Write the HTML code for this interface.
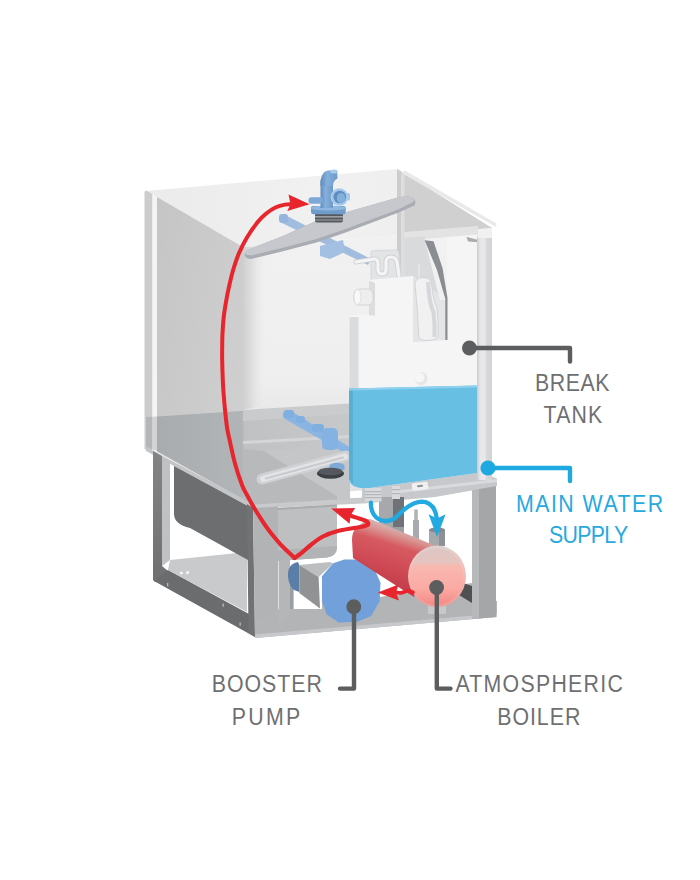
<!DOCTYPE html>
<html><head><meta charset="utf-8">
<style>
html,body{margin:0;padding:0;background:#fff;}
body{width:700px;height:880px;overflow:hidden;font-family:"Liberation Sans",sans-serif;}
svg{display:block}
text{font-family:"Liberation Sans",sans-serif;}
</style></head><body>
<svg width="700" height="880" viewBox="0 0 700 880">
<defs>
<linearGradient id="gLeft" x1="0" y1="0" x2="1" y2="0.6"><stop offset="0" stop-color="#c5c5c6"/><stop offset="1" stop-color="#cfcfd0"/></linearGradient>
<linearGradient id="gTop" x1="0" y1="0" x2="1" y2="0"><stop offset="0" stop-color="#ebebec"/><stop offset="0.5" stop-color="#f1f1f1"/><stop offset="1" stop-color="#ececed"/></linearGradient>
<linearGradient id="gFront" x1="0" y1="0" x2="0" y2="1"><stop offset="0" stop-color="#f1f1f1"/><stop offset="0.55" stop-color="#efeff0"/><stop offset="0.68" stop-color="#e8e8e9"/><stop offset="1" stop-color="#e0e0e1"/></linearGradient>
<linearGradient id="gCorner" x1="0" y1="0" x2="1" y2="0"><stop offset="0" stop-color="#cfcfd0" stop-opacity="1"/><stop offset="0.3" stop-color="#dadadb" stop-opacity="0.9"/><stop offset="1" stop-color="#f0f0f0" stop-opacity="0"/></linearGradient>
<linearGradient id="gBoiler" gradientUnits="userSpaceOnUse" x1="403" y1="528" x2="386" y2="582"><stop offset="0" stop-color="#cfbfbe"/><stop offset="0.16" stop-color="#d99390"/><stop offset="0.34" stop-color="#d65a61"/><stop offset="0.7" stop-color="#cf4a55"/><stop offset="1" stop-color="#c33f4b"/></linearGradient>
<linearGradient id="gCap" x1="0" y1="0" x2="0" y2="1"><stop offset="0" stop-color="#dcc6c3"/><stop offset="0.25" stop-color="#e6c3be"/><stop offset="0.31" stop-color="#f8b8b0"/><stop offset="0.7" stop-color="#fbaaa4"/><stop offset="1" stop-color="#f48a86"/></linearGradient><linearGradient id="gRim" x1="0" y1="0" x2="0" y2="1"><stop offset="0" stop-color="#ddd0ce"/><stop offset="0.35" stop-color="#f3c2bc"/><stop offset="1" stop-color="#f19a95"/></linearGradient>
<linearGradient id="gPost" x1="0" y1="0" x2="1" y2="0"><stop offset="0" stop-color="#c9cacc"/><stop offset="0.2" stop-color="#e6e6e8"/><stop offset="0.55" stop-color="#e9e9eb"/><stop offset="0.6" stop-color="#d8d9db"/><stop offset="1" stop-color="#d2d3d5"/></linearGradient>
<linearGradient id="gWork" gradientUnits="userSpaceOnUse" x1="157" y1="0" x2="350" y2="0"><stop offset="0" stop-color="#a9acaf"/><stop offset="0.44" stop-color="#b2b5b8"/><stop offset="0.455" stop-color="#bfc1c3"/><stop offset="1" stop-color="#c6c8ca"/></linearGradient>
<linearGradient id="gLeg" x1="0" y1="0" x2="0" y2="1"><stop offset="0" stop-color="#828485"/><stop offset="1" stop-color="#6e7072"/></linearGradient>
<linearGradient id="gValve" x1="0" y1="0" x2="1" y2="0"><stop offset="0" stop-color="#5f8cbe"/><stop offset="0.4" stop-color="#86b0dc"/><stop offset="1" stop-color="#6c99c9"/></linearGradient>
</defs>
<rect width="700" height="880" fill="#ffffff"/>


<!-- HOOD -->
<g id="hood">
<!-- top face -->
<polygon points="146,191 397,169 492,228 243,247" fill="url(#gTop)"/>
<!-- right triangle (back-right wall through top) -->
<polygon points="404,173 492,228 404,236" fill="#d0d0d1"/>
<!-- front right face -->
<polygon points="243,247 492,228 492,480 243,500" fill="url(#gFront)"/>
<!-- back right wall through front face -->
<polygon points="404,232 478,226 478,300 404,300" fill="#e3e3e4"/><polygon points="404,238 424.5,236.5 440,300 404,300" fill="#d9dadc"/>
<!-- back corner strip -->
<polygon points="397,169 401,171 401,300 397,300" fill="#cdcdce"/>
<polygon points="401,171 404.5,173 404.5,300 401,300" fill="#dededf"/>
<!-- top right lip -->
<polygon points="404,170 496.5,223.5 496,227 404,174.5" fill="#e9e9ea"/>
<!-- left face -->
<polygon points="157,197 243,247 243,499 157,452" fill="url(#gLeft)"/>
<polygon points="243,247 268,245 268,404 243,410" fill="url(#gCorner)"/>
<!-- left strip -->
<polygon points="144.5,192 146,190.5 152.5,194 152.5,452 144.5,449" fill="#cccccd"/>
<polygon points="152.5,194 157,198 157,455 152.5,452" fill="#f4f4f4"/>
</g>

<!-- worktop -->
<g id="worktop">
<polygon points="157,416.5 350,404 350,499 253,505 157,451" fill="url(#gWork)"/>
<polygon points="146,417 152.5,416.7 152.5,449.5 146,447" fill="#b4b6b9"/><polygon points="152.5,416.7 157,416.5 157,451 152.5,449.5" fill="#d2d4d6"/>
<!-- front-left edge -->
<polygon points="146,447 253,504 253,508.5 146,451" fill="#c3c5c7"/>
<!-- front-right edge -->
<polygon points="253,504 300,501 363,497.5 435,491 497,480 497,486 435,497 363,503.5 300,506.5 253,509" fill="#c8cacc"/>
</g>

<!-- upper wash arm -->
<g id="arm">
<!-- secondary blue arm -->
<path d="M281 217 Q283 214 287 216 L371 259 L368 265 L284 224 Q279 222 281 217 Z" fill="#a0bde0"/>
<rect x="279" y="214" width="9" height="9" rx="3" fill="#94b6de"/>
<!-- main arm -->
<path d="M244.5 254 Q245 250 251 248.5 L283 236 L316 221 L354 210 L398 197.6 Q407 195.5 412 197.5 Q417 200.5 414.5 205.5 L398 212.8 L343.6 233.2 L316.4 242.6 L283 251.3 L252 258.8 Q245 259.5 244.5 254 Z" fill="#a9acb3"/>
<path d="M244.8 253 Q245 250 251 248.5 L283 236 L316 221 L354 210 L398 197.6 Q407 195.5 412 197.5 Q415.5 199.5 413 202 L398 209.5 L343.6 229.8 L316.4 239 L283 247.8 L252 255.2 Q246 256 244.8 253 Z" fill="#c6c8cd"/>
<!-- blue nozzles under arm -->
<path d="M320 246 L343 240 L345 252 L330 259 L320 256 Z" fill="#a3c0e2"/>
<!-- valve -->
<rect x="315" y="213" width="28" height="9.5" rx="2" fill="#565a60"/>
<rect x="315" y="216" width="28" height="1.6" fill="#9da0a5"/>
<rect x="315" y="219.3" width="28" height="1.4" fill="#8b8e93"/>
<path d="M311 207.5 Q311 206 313 206 L343.5 206 Q345.7 206 345.7 208 L345.7 212 Q345.7 214.3 343 214.3 L313.5 214.3 Q311 214.3 311 212 Z" fill="#6f9ccb"/><ellipse cx="328.3" cy="208" rx="17.3" ry="2.6" fill="#8fb8e0"/>
<rect x="320.5" y="180" width="12.5" height="28" fill="url(#gValve)"/>
<path d="M320.5 186 Q320 172 328 170.5 L337 170 L337.5 178.5 Q333 180.5 333 186 Z" fill="url(#gValve)"/>
<ellipse cx="334" cy="171.5" rx="3.6" ry="2" fill="#a9cbea"/>
<rect x="308.6" y="197.3" width="14" height="6.4" rx="2.5" fill="#7ea9d7"/>
<circle cx="339.3" cy="197" r="8.8" fill="#a6c9ea"/>
<circle cx="339.8" cy="197" r="6.3" fill="#5f8cbe"/><rect x="346.5" y="193" width="3.5" height="7.5" rx="1.5" fill="#a6c9ea"/>
<ellipse cx="341" cy="198" rx="4.2" ry="5" fill="#86b0dc"/>
</g>

<!-- lower wash arms -->
<g id="arm2">
<!-- well -->
<polygon points="243,410 350,403.5 350,414 243,421" fill="#c9cbcc"/>
<polygon points="243,441 350,435 350,438 243,444" fill="#d3d5d6"/>
<path d="M243 449 L264 451 L337 496 L337 499.5 L253 504.5 L243 499 Z" fill="#b7b9bb"/>
<path d="M264 451 L350 445 L350 499 L337 500 L337 496 Z" fill="#c4c6c8"/>
<!-- blue arm -->
<path d="M284 411 Q287 409 291 411 L351 448 L348 455 L285 419 Q281 416 284 411 Z" fill="#8ab5e3"/>
<rect x="284" y="410" width="10" height="8" rx="3" fill="#7fafe0"/>
<rect x="296" y="416" width="9" height="7" rx="3" fill="#7fafe0"/>
<rect x="312" y="424" width="12" height="8" rx="3" fill="#7fafe0"/>
<rect x="322" y="428" width="16" height="22" rx="5" fill="#84b2e2"/>
<!-- loop arm -->
<path d="M262 479 L346 456" fill="none" stroke="#cfd1d4" stroke-width="11" stroke-linecap="round"/>
<path d="M263 479 L345 456.5" fill="none" stroke="#e3e4e6" stroke-width="6" stroke-linecap="round"/>
<path d="M266 478.5 L343 457.5" fill="none" stroke="#c8cacd" stroke-width="2" stroke-linecap="round"/>
<!-- hub -->
<ellipse cx="337" cy="466" rx="7.5" ry="3.2" fill="#7eaad8"/>
<rect x="329.5" y="466" width="15" height="4" fill="#7eaad8"/>
<ellipse cx="330.5" cy="473.5" rx="13.5" ry="5.2" fill="#3c3f44"/>
<ellipse cx="330.5" cy="471.5" rx="12" ry="3.8" fill="#55595f"/>
</g>

<!-- frame -->
<g id="frame">
<!-- left leg -->
<polygon points="153,451 162,456 162,566 168,571 155,582 153,580" fill="url(#gLeg)"/>
<polygon points="162,457 170,461 170,560 162,566" fill="#bfc1c2"/>
<!-- bottom-left rail -->
<polygon points="154,581 255,637 249,614 168,570" fill="#6a6c6e"/>
<!-- floor plate -->
<polygon points="170,560 247,552 247,612 168,570" fill="#c8cacb"/>
<circle cx="181.4" cy="573" r="1.6" fill="#f4f4f4"/><circle cx="187.6" cy="572.6" r="1.6" fill="#f4f4f4"/>
<rect x="167" y="583" width="1.3" height="3.2" fill="#b9bbbc"/><rect x="222.5" y="603.5" width="1.3" height="3.2" fill="#b9bbbc"/><rect x="239.5" y="622.5" width="1.3" height="3.2" fill="#b9bbbc"/>
<!-- sink -->
<path d="M174 466 L248 506 L248 560 L190 528 Q174 524 174 514 Z" fill="#6c6e70"/>
<!-- front leg -->
<polygon points="247,504 253,508 255,637 248.5,633" fill="#707274"/>
<polygon points="253,508 278,506.5 278,635 255,637" fill="#b1b3b4"/>
<!-- bottom right rail -->
<polygon points="255,638 497,617 497,601 472,603 472,583 410,592 380,597 322,600 322,609 279,609 255,622" fill="#b2b4b5"/>
<polygon points="255,634.5 497,613.5 497,617 255,638" fill="#c6c8cb"/>
<polygon points="278.6,560 290,560 290,612 278.6,625" fill="#b4b6b7"/>
<rect x="290" y="577" width="3.6" height="32" fill="#9a9da1"/>
<rect x="428" y="604" width="18" height="10" fill="#c6c8cb"/>
<!-- right leg -->
<polygon points="472,488 496,484 496,617 472,619" fill="#a4a6a7"/>
<polygon points="472,488 479,487 479,618.4 472,619" fill="#b6b8b9"/>
<!-- under-tank platform -->
<polygon points="362,489 478,472 497,478.5 497,486 435,496.5 400,499.5 362,503" fill="#c6c8cb"/>
<polygon points="400,490 497,479 497,482 400,493" fill="#d8dadc"/>
<rect x="412" y="482.5" width="16" height="7.5" rx="1.5" fill="#f0f0f1" transform="rotate(-7 420 486)"/>
<rect x="417" y="485" width="6" height="2" rx="1" fill="#8d9095" transform="rotate(-7 420 486)"/>
<!-- mid bracket -->
<rect x="383" y="497" width="21" height="40" fill="#9c9fa3"/>
</g>

<!-- tub front, pump -->
<g id="pump">
<path d="M277.7 508 L337 504.5 L337 547 Q337 556.5 327 557.5 L278 561 Z" fill="#bdbfc1"/>
<polygon points="277.7,508 337,504.5 337,506.5 277.7,510" fill="#a9abad"/>
<path d="M278 550 L337 546 L337 547 Q337 556.5 327 557.5 L278 561 Z" fill="#b1b3b5"/>
<path d="M298 562 Q287 564 288 577 Q289 586 294 590 L299.3 592 L299.3 565 Z" fill="#5b7ea9"/>
<polygon points="299.3,565 330,562 333,563.5 318.6,577" fill="#bcbebf"/>
<polygon points="299.3,565 318.6,577 320,608.6 299.3,592.9" fill="#909294"/>
<polygon points="322,576.2 333.1,563.2 344.3,559.5 362.9,559.5 374,567.9 380.5,582.7 379.6,601.3 371.2,616.1 357.3,621.7 338.7,622.6 326.6,614.3 322,601.3" fill="#72a0da"/>
</g>
<g id="boiler">
<rect x="379" y="497" width="14" height="30" fill="#a6a8ac"/>
<rect x="393" y="497" width="11" height="30" fill="#6f7276"/>
<rect x="414.2" y="509.5" width="3.6" height="12" fill="#b0b2b6"/><rect x="413" y="520" width="6" height="22" fill="#a8aaae"/>
<rect x="429" y="530" width="16" height="16" fill="#a6a8ac"/><rect x="439" y="530" width="6" height="16" fill="#8e9195"/>
<ellipse cx="437" cy="530" rx="8" ry="2.5" fill="#85888d"/>
<polygon points="463,583 472,586 472,603 459,595" fill="#4e5052"/>
<path d="M352 540 Q352 532 356 528 L366 520 Q369 518 373 520 L436 546 L414 597 L353 558 Z" fill="url(#gBoiler)"/>
<ellipse cx="437" cy="576.3" rx="29" ry="30.7" fill="url(#gRim)"/>
<ellipse cx="436.5" cy="576.8" rx="26.5" ry="28.2" fill="url(#gCap)"/>
</g>

<!-- break tank -->
<g id="tank">
<!-- bracket plate and S pipe -->
<path d="M371 253 Q371 250.5 374 250.5 L396 250 Q398.5 250 399 253 L401 279 L371 281 Z" fill="#e3e4e6" stroke="#d2d3d6" stroke-width="0.8"/>
<path d="M356 262 L374 259 Q378 259 378 263 L378 270 Q378 274 382 274 Q386 274 386 270 L386 262 Q386 257 391 257 Q396 257 397 262 L399 276" fill="none" stroke="#d0d1d4" stroke-width="5" stroke-linecap="round" stroke-linejoin="round"/>
<path d="M356 262 L374 259 Q378 259 378 263 L378 270 Q378 274 382 274 Q386 274 386 270 L386 262 Q386 257 391 257 Q396 257 397 262 L399 276" fill="none" stroke="#f4f4f5" stroke-width="3.2" stroke-linecap="round" stroke-linejoin="round"/>
<!-- body -->
<path d="M349 318 Q349 315 352 314.7 L374 315.5 L374 283 L367.5 280 L413 276 L413 342 L447 340 L447 237 L477 234.5 L477 473 L366 488.5 Q349 488 349 478 Z" fill="#f5f5f6"/>
<polygon points="349.5,317 358.6,317 358.6,487 349.5,480" fill="#d9dbdd"/>
<polygon points="369,280.5 375,283 375,315.5 369,315" fill="#dcdddf"/>
<!-- recess -->
<polygon points="413,276 447,300 447,340 413,342" fill="#e4e5e7"/>
<polygon points="424.5,239 447,237 447,300 440,300" fill="#f1f1f2"/>
<polygon points="424.6,240.3 433.5,241.2 442.5,268 447.5,298 447.5,340 445.3,340 445.3,299 437,270" fill="#8a8d92"/>
<!-- pipe -->
<rect x="418" y="264" width="2" height="16" fill="#e4e4e6"/><path d="M415 285 Q414.5 278 423 277.5 Q431 277.5 431.5 284 Q433 300 437 308 Q438.5 322 438 336 Q437 340 428 340.5 Q419.5 340.5 418.8 337 Q418 310 415 285 Z" fill="#f1f1f2" stroke="#d3d4d7" stroke-width="1"/>
<path d="M428 282 Q429.5 305 433.5 312 Q435 325 434.5 337" fill="none" stroke="#d6d7da" stroke-width="4"/>
<!-- water -->
<path d="M349 388.5 L477 385.5 L477 473 L366 488.5 Q349 488 349 478 Z" fill="#67bfe4"/>
<polygon points="349,388.5 353,388.4 353,484 349,479" fill="#5aaed3"/>
<polygon points="349,388.5 477,385.5 477,387.5 349,390.5" fill="#8fd0ee"/>
<!-- port -->
<circle cx="421" cy="378.5" r="6.5" fill="#e4e5e7"/>
<circle cx="419.5" cy="377.5" r="5" fill="#f6f6f7"/>
<!-- side spout -->
<rect x="354" y="289" width="19" height="16" rx="5" fill="#eeeeef" stroke="#d4d5d8" stroke-width="1"/>
<ellipse cx="357.5" cy="297" rx="3.5" ry="7.5" fill="#f8f8f9" stroke="#d9dadc" stroke-width="0.8"/>
<!-- fittings -->
<rect x="365" y="488" width="16.5" height="13.5" fill="#d8dadc"/>
<rect x="365" y="491" width="16.5" height="1.2" fill="#b5b7ba"/>
<rect x="365" y="494" width="16.5" height="1.2" fill="#b5b7ba"/>
<rect x="365" y="497" width="16.5" height="1.2" fill="#b5b7ba"/>
<rect x="392" y="486" width="8" height="13" fill="#d8dadc"/>
<rect x="392" y="489" width="8" height="1.2" fill="#b5b7ba"/>
<rect x="392" y="493" width="8" height="1.2" fill="#b5b7ba"/>
</g>
<polygon points="466.5,236.8 478,240 478,242.3 468,241.5" fill="#a9abaf"/>
<!-- right post -->
<rect x="477" y="238" width="15" height="242" fill="url(#gPost)"/>

<!-- arrows -->
<g id="arrows" fill="none" stroke-linecap="round" stroke-linejoin="round">
<path d="M294.5 558.0 C294.0 557.5 293.8 557.2 291.5 555.0 C289.2 552.8 284.2 548.3 281.0 545.0 C277.8 541.7 275.2 538.3 272.5 535.0 C269.8 531.7 267.3 528.3 265.0 525.0 C262.7 521.7 260.6 518.3 258.5 515.0 C256.4 511.7 254.4 508.3 252.5 505.0 C250.6 501.7 248.8 498.3 247.0 495.0 C245.2 491.7 243.9 490.0 242.0 485.0 C240.1 480.0 237.5 472.5 235.4 465.0 C233.3 457.5 230.9 446.0 229.6 440.0 C228.2 434.0 228.0 433.2 227.3 429.1 C226.6 425.0 226.1 420.1 225.6 415.5 C225.1 410.9 224.7 406.4 224.3 401.8 C223.9 397.2 223.5 392.8 223.2 388.2 C222.9 383.6 222.8 379.1 222.6 374.5 C222.4 369.9 222.3 365.4 222.2 360.9 C222.1 356.4 222.1 351.9 222.2 347.3 C222.2 342.8 222.2 338.6 222.5 333.6 C222.8 328.6 223.1 322.6 223.7 317.2 C224.3 311.8 225.2 306.6 226.1 301.3 C227.0 296.0 228.1 290.7 229.3 285.4 C230.5 280.1 231.7 274.8 233.3 269.5 C234.9 264.2 236.6 258.9 238.8 253.6 C241.1 248.3 243.6 243.0 246.8 237.7 C250.0 232.4 254.7 225.8 257.9 221.8 C261.1 217.8 263.0 216.2 265.9 213.8 C268.8 211.4 272.2 209.0 275.4 207.5 C278.6 206.0 282.2 205.1 285.0 204.6 C287.8 204.1 290.8 204.4 292.0 204.3" stroke="#e8252d" stroke-width="4"/>
<polygon points="309.6,204.3 288.5,194.5 290.5,204.3 287.3,210.9" fill="#e8252d"/>
<path d="M294.5 558.0 C295.4 557.4 297.2 556.5 300.0 554.2 C302.8 552.0 307.6 547.5 311.4 544.5 C315.2 541.5 318.5 538.8 322.9 536.5 C327.3 534.2 332.5 532.4 337.7 531.0 C342.9 529.6 349.6 528.8 354.0 528.0 C358.4 527.2 361.6 527.0 364.0 526.3 C366.4 525.6 368.1 525.0 368.3 524.0 C368.5 523.0 368.1 521.9 365.0 520.5 C361.9 519.1 352.5 516.4 350.0 515.6" stroke="#e8252d" stroke-width="4.2"/>
<polygon points="331.2,508.6 355.2,508 350.5,515.5 349.6,523.8" fill="#e8252d"/>
<path d="M413 592.4 Q408 589.5 404 592 Q401 593.5 397 592.5" stroke="#e8252d" stroke-width="3.8"/>
<polygon points="377.8,592.6 398.5,584.5 396,592.5 399,600.5" fill="#e8252d"/>
<path d="M370.9 502.7 C370.5 511 374.5 520 385 521 C395 521.5 399.5 513 405.5 508.5 C411.5 504 416 501.6 422 501.6 C430 502 435.5 507.5 436.8 519" stroke="#22a9e1" stroke-width="4.3"/>
<polygon points="437,537.2 428.6,514.3 437,518.6 445.6,514.3" fill="#22a9e1"/>
</g>

<!-- leader lines -->
<g id="leaders" fill="none" stroke-width="4.4" stroke-linejoin="round" stroke-linecap="round">
<path d="M469.4 348 H570 V361.5" stroke="#5c5d5f"/>
<circle cx="469.4" cy="348" r="7.4" fill="#5c5d5f" stroke="none"/>
<path d="M488 468 H570 V481" stroke="#1fa9e1"/>
<circle cx="488" cy="468" r="7.6" fill="#1fa9e1" stroke="none"/>
<path d="M354 606.5 V688.6 H340" stroke="#5c5d5f"/>
<circle cx="353.8" cy="606.7" r="7.4" fill="#5c5d5f" stroke="none"/>
<path d="M436.8 588 V688.6 H450.5" stroke="#5c5d5f"/>
<circle cx="436.6" cy="587.5" r="7.4" fill="#5c5d5f" stroke="none"/>
</g>

<!-- labels -->
<g id="labels" font-size="24.2" fill="#6e6f71">
<text transform="translate(535.0 391.2) scale(0.88 1)" textLength="84.7" lengthAdjust="spacing">BREAK</text>
<text transform="translate(543.6 423.2) scale(0.88 1)" textLength="66.6" lengthAdjust="spacing">TANK</text>
<text transform="translate(516.0 512.4) scale(0.88 1)" textLength="167.1" lengthAdjust="spacing" fill="#27a9e0">MAIN WATER</text>
<text transform="translate(549.0 543.3) scale(0.88 1)" textLength="90.0" lengthAdjust="spacing" fill="#27a9e0">SUPPLY</text>
<text transform="translate(211.8 692.4) scale(0.88 1)" textLength="125.1" lengthAdjust="spacing">BOOSTER</text>
<text transform="translate(231.8 724.6) scale(0.88 1)" textLength="77.7" lengthAdjust="spacing">PUMP</text>
<text transform="translate(455.4 692.3) scale(0.88 1)" textLength="190.2" lengthAdjust="spacing">ATMOSPHERIC</text>
<text transform="translate(497.2 724.6) scale(0.88 1)" textLength="94.4" lengthAdjust="spacing">BOILER</text>
</g>
</svg>
</body></html>
